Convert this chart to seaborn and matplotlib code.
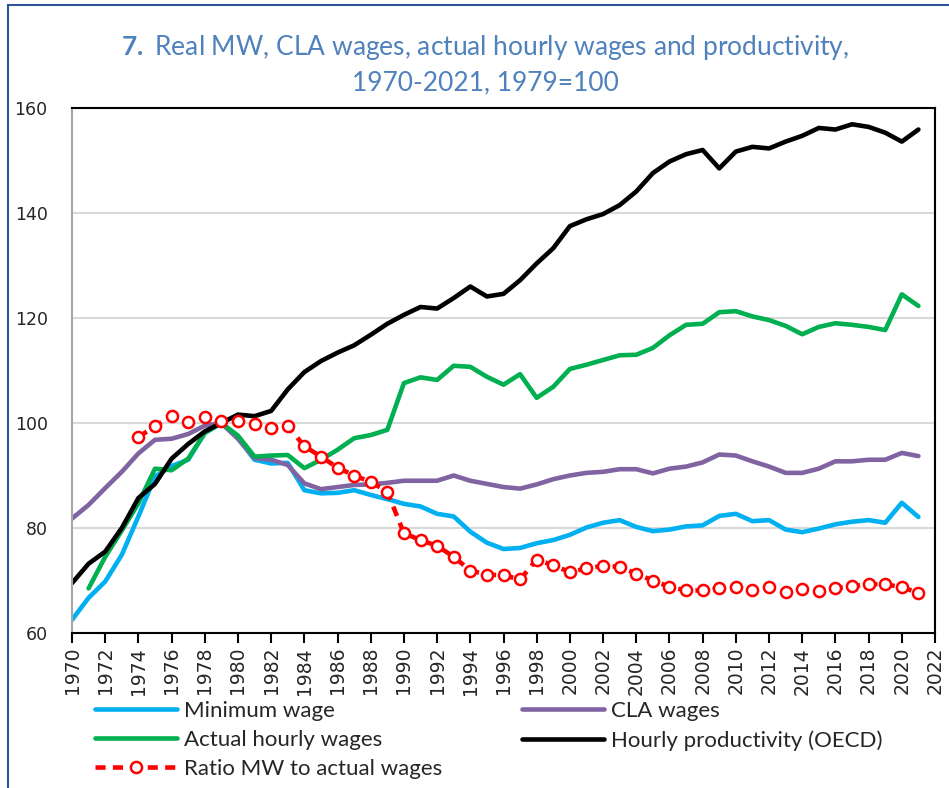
import matplotlib.pyplot as plt
import matplotlib.patches as mpatches
import seaborn as sns

years = list(range(1970, 2022))

min_wage = [62.5, 66.7, 69.8, 74.9, 82.2, 89.8, 91.8, 93.0, 98.1, 100.0,
            97.1, 93.0, 92.3, 92.4, 87.2, 86.6, 86.7, 87.2, 86.3, 85.5,
            84.6, 84.1, 82.7, 82.2, 79.3, 77.2, 76.0, 76.2, 77.1, 77.7,
            78.7, 80.1, 81.0, 81.5, 80.2, 79.4, 79.7, 80.3, 80.5, 82.3,
            82.7, 81.3, 81.5, 79.7, 79.2, 79.9, 80.7, 81.2, 81.5, 81.0,
            84.8, 82.1]

cla_wages = [81.8, 84.4, 87.6, 90.7, 94.2, 96.8, 97.0, 97.9, 99.5, 100.0,
             97.0, 93.3, 93.0, 92.0, 88.5, 87.4, 87.8, 88.2, 88.3, 88.6,
             89.0, 89.0, 89.0, 90.0, 89.0, 88.4, 87.8, 87.5, 88.3, 89.3,
             90.0, 90.5, 90.7, 91.2, 91.2, 90.4, 91.3, 91.7, 92.5, 94.0,
             93.8, 92.7, 91.7, 90.5, 90.5, 91.3, 92.7, 92.7, 93.0, 93.0,
             94.3, 93.7]

years_actual = list(range(1971, 2022))
actual_wages = [68.5, 74.5, 79.5, 84.7, 91.3, 91.0, 93.2, 98.1, 100.0,
                97.6, 93.6, 93.8, 93.9, 91.4, 93.0, 94.9, 97.1, 97.7, 98.7,
                107.6, 108.7, 108.2, 110.9, 110.7, 108.8, 107.3, 109.3, 104.8, 106.9,
                110.3, 111.1, 112.0, 112.9, 113.0, 114.3, 116.7, 118.7, 118.9, 121.1,
                121.3, 120.3, 119.6, 118.5, 116.9, 118.3, 119.0, 118.7, 118.3, 117.7,
                124.5, 122.3]

productivity = [69.5, 73.2, 75.5, 80.0, 85.7, 88.4, 93.2, 96.0, 98.4, 100.0,
                101.6, 101.3, 102.3, 106.4, 109.7, 111.8, 113.4, 114.8, 116.8, 118.9,
                120.6, 122.1, 121.8, 123.8, 126.0, 124.1, 124.6, 127.2, 130.4, 133.3,
                137.5, 138.8, 139.8, 141.5, 144.1, 147.6, 149.8, 151.2, 152.0, 148.5,
                151.7, 152.6, 152.3, 153.6, 154.7, 156.2, 155.9, 156.9, 156.4, 155.3,
                153.6, 155.9]

years_ratio = list(range(1974, 2022))
ratio = [97.3, 99.4, 101.3, 100.1, 101.2, 100.4,
         100.4, 99.9, 99.0, 99.4, 95.6, 93.6, 91.5, 90.0, 88.8, 86.9,
         79.0, 77.7, 76.6, 74.5, 71.9, 71.1, 71.0, 70.2, 74.0, 72.9,
         71.6, 72.3, 72.8, 72.6, 71.3, 70.0, 68.8, 68.1, 68.1, 68.5,
         68.7, 68.1, 68.7, 67.8, 68.3, 68.0, 68.5, 68.9, 69.3, 69.3,
         68.7, 67.7]

sns.set_style("white")
plt.rcParams['font.family'] = ['Lato', 'DejaVu Sans']
plt.rcParams['mathtext.fontset'] = 'custom'
plt.rcParams['mathtext.bf'] = 'Lato:bold'
plt.rcParams['mathtext.rm'] = 'Lato'

fig = plt.figure(figsize=(9.49, 7.88), dpi=100)
ax = fig.add_axes([72 / 949, 1 - 633 / 788, (935 - 72) / 949, (633 - 108) / 788])

lw = 3.3
sns.lineplot(x=years, y=min_wage, color='#00B0F0', lw=lw, ax=ax, label='Minimum wage')
sns.lineplot(x=years, y=cla_wages, color='#8064A2', lw=lw, ax=ax, label='CLA wages')
sns.lineplot(x=years_actual, y=actual_wages, color='#00B050', lw=lw, ax=ax, label='Actual hourly wages')
sns.lineplot(x=years, y=productivity, color='black', lw=lw, ax=ax, label='Hourly productivity (OECD)')
sns.lineplot(x=years_ratio, y=ratio, color='red', lw=lw, ax=ax, linestyle=(0, (2.2, 1.6)),
             marker='o', markersize=8, markerfacecolor='white', markeredgecolor='red',
             markeredgewidth=1.8, label='Ratio MW to actual wages')

ax.set_xlim(1970, 2022)
ax.set_ylim(60, 160)
ax.set_xticks(range(1970, 2023, 2))
ax.set_yticks(range(60, 161, 20))
ax.tick_params(axis='x', labelrotation=90, direction='out', length=7,
               width=1.5, color='black', bottom=True, pad=3)
ax.tick_params(axis='y', left=False, pad=14)
for lab in ax.get_xticklabels():
    lab.set_family(['DejaVu Sans'])
    lab.set_fontsize(13.5)
for lab in ax.get_yticklabels():
    lab.set_family(['DejaVu Sans'])
    lab.set_fontsize(12.5)

ax.grid(axis='y', color='#D9D9D9', lw=1.5)
ax.grid(axis='x', visible=False)
for side in ['top', 'right', 'bottom']:
    ax.spines[side].set_color('black')
    ax.spines[side].set_linewidth(1.5)
ax.spines['left'].set_color('#A6A6A6')
ax.spines['left'].set_linewidth(1.5)

handles, labels = ax.get_legend_handles_labels()
order = [0, 2, 4, 1, 3]
ax.legend([handles[i] for i in order], [labels[i] for i in order],
          ncol=2, loc='upper left', bbox_to_anchor=(0.016, -0.113),
          frameon=False, fontsize=16, handlelength=3.7, handletextpad=0.3,
          columnspacing=3.6, labelspacing=0.4, borderaxespad=0)

fig.text(485 / 949, 1 - 47 / 788, r'$\bf{7.}$ Real MW, CLA wages, actual hourly wages and productivity,',
         ha='center', va='center', fontsize=19, color='#4F81BD')
fig.text(485 / 949, 1 - 83 / 788, '1970-2021, 1979=100',
         ha='center', va='center', fontsize=19, color='#4F81BD')

fig.patches.append(mpatches.Rectangle((8 / 949, -0.1), 1.2, 1 - 5 / 788 + 0.1,
                                      transform=fig.transFigure, fill=False,
                                      edgecolor='#2F5597', lw=1.5))

fig.savefig('out.png', dpi=100)
